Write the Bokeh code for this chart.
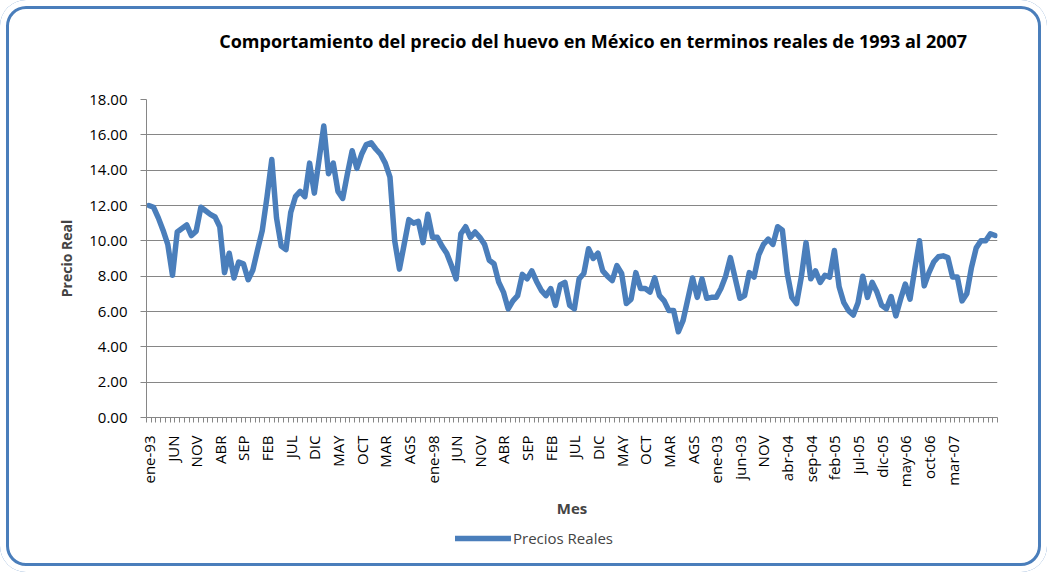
import math
from bokeh.plotting import figure
from bokeh.layouts import column
from bokeh.models import (Range1d, FixedTicker, PrintfTickFormatter, Legend, LegendItem, Label)
from bokeh.embed import file_html
from bokeh.resources import INLINE

# ---- data ----
title_text = "Comportamiento del precio del huevo en México en terminos  reales de 1993 al 2007"
series_name = "Precios Reales"
tick_labels = ["ene-93", "JUN", "NOV", "ABR", "SEP", "FEB", "JUL", "DIC", "MAY", "OCT",
               "MAR", "AGS", "ene-98", "JUN", "NOV", "ABR", "SEP", "FEB", "JUL", "DIC",
               "MAY", "OCT", "MAR", "AGS", "ene-03", "jun-03", "NOV", "abr-04", "sep-04",
               "feb-05", "jul-05", "dic-05", "may-06", "oct-06", "mar-07"]
precios = [
    12.0, 11.9, 11.3, 10.6, 9.8, 8.05, 10.5, 10.7, 10.9, 10.3,
    10.55, 11.9, 11.7, 11.5, 11.35, 10.8, 8.2, 9.3, 7.9, 8.8,
    8.7, 7.8, 8.35, 9.5, 10.6, 12.5, 14.6, 11.3, 9.7, 9.5,
    11.6, 12.5, 12.8, 12.5, 14.4, 12.7, 14.6, 16.5, 13.8, 14.4,
    12.8, 12.4, 13.8, 15.1, 14.1, 14.9, 15.45, 15.55, 15.2, 14.9,
    14.4, 13.6, 10.0, 8.4, 9.8, 11.2, 11.0, 11.1, 9.9, 11.5,
    10.2, 10.2, 9.7, 9.3, 8.6, 7.85, 10.4, 10.8, 10.2, 10.5,
    10.2, 9.8, 8.9, 8.7, 7.66, 7.1, 6.15, 6.6, 6.9, 8.1,
    7.85, 8.3, 7.7, 7.2, 6.9, 7.3, 6.35, 7.5, 7.65, 6.35,
    6.15, 7.85, 8.15, 9.55, 9.0, 9.3, 8.3, 8.0, 7.75, 8.6,
    8.15, 6.45, 6.7, 8.2, 7.3, 7.3, 7.1, 7.9, 6.9, 6.6,
    6.05, 6.05, 4.85, 5.5, 6.7, 7.9, 6.8, 7.85, 6.75, 6.8,
    6.8, 7.3, 8.0, 9.05, 7.9, 6.75, 6.9, 8.2, 7.95, 9.2,
    9.8, 10.1, 9.8, 10.8, 10.6, 8.2, 6.8, 6.45, 7.95, 9.9,
    7.85, 8.3, 7.65, 8.05, 7.95, 9.45, 7.4, 6.5, 6.05, 5.8,
    6.5, 8.0, 6.8, 7.65, 7.1, 6.35, 6.15, 6.85, 5.75, 6.7,
    7.55, 6.7, 8.4, 10.0, 7.45, 8.2, 8.8, 9.1, 9.15, 9.05,
    7.95, 7.95, 6.6, 7.0, 8.5, 9.6, 10.0, 10.0, 10.4, 10.3,
]
label_step = 5
y_ticks = [0, 2, 4, 6, 8, 10, 12, 14, 16, 18]

n = len(precios)
xs = [i + 0.5 for i in range(n)]

LINE = "#4A7EBB"
GRID = "#868686"
FONT = "Open Sans"
W = 1047
FRAME_L, FRAME_R = 146, 997


def blank(h, xr, yr):
    f = figure(width=W, height=h, output_backend="svg", toolbar_location=None,
               x_range=xr, y_range=yr, min_border=0)
    f.axis.visible = False
    f.grid.visible = False
    f.outline_line_color = None
    f.border_fill_color = None
    f.background_fill_color = None
    return f


# ---- title strip (its frame is aligned with the main chart's frame) ----
pt = blank(84, Range1d(FRAME_L, FRAME_R), Range1d(0, 84))
pt.add_layout(Label(x=595, y=44, text=title_text, text_align="center", text_baseline="middle",
                    text_font=FONT, text_font_size="18px", text_font_style="bold",
                    text_color="#000000"))

# ---- main chart ----
p = figure(width=W, height=438, output_backend="svg", toolbar_location=None,
           x_range=Range1d(0, n), y_range=Range1d(0, 18),
           min_border_left=FRAME_L, min_border_right=W - FRAME_R,
           min_border_top=15, min_border_bottom=105)
p.border_fill_color = None
p.background_fill_color = "#FFFFFF"
p.outline_line_color = None
p.xgrid.grid_line_color = None
p.ygrid.grid_line_color = GRID
p.ygrid.grid_line_width = 1

p.yaxis.ticker = FixedTicker(ticks=y_ticks)
p.yaxis.formatter = PrintfTickFormatter(format="%.2f")
p.yaxis.major_tick_out = 6
p.yaxis.major_tick_in = 0
p.yaxis.minor_tick_line_color = None
p.yaxis.axis_line_color = GRID
p.yaxis.major_tick_line_color = GRID
p.yaxis.major_label_text_font = FONT
p.yaxis.major_label_text_font_size = "15px"
p.yaxis.major_label_text_color = "#000000"
p.yaxis.major_label_standoff = 13
p.yaxis.axis_label = "Precio Real"
p.yaxis.axis_label_text_font = FONT
p.yaxis.axis_label_text_font_size = "14px"
p.yaxis.axis_label_text_font_style = "bold"
p.yaxis.axis_label_standoff = 10

major = [i * label_step + 0.5 for i in range(len(tick_labels))]
p.xaxis.ticker = FixedTicker(ticks=major, minor_ticks=list(range(n + 1)))
p.xaxis.major_label_overrides = {m: lab for m, lab in zip(major, tick_labels)}
p.xaxis.major_label_orientation = math.pi / 2
p.xaxis.major_tick_line_color = None
p.xaxis.major_tick_out = 0
p.xaxis.major_tick_in = 0
p.xaxis.minor_tick_out = 5
p.xaxis.minor_tick_in = 0
p.xaxis.minor_tick_line_color = GRID
p.xaxis.axis_line_color = GRID
p.xaxis.major_label_text_font = FONT
p.xaxis.major_label_text_font_size = "15px"
p.xaxis.major_label_text_color = "#000000"
p.xaxis.major_label_standoff = 13
p.xaxis.axis_label = "Mes"
p.xaxis.axis_label_text_font = FONT
p.xaxis.axis_label_text_font_size = "15px"
p.xaxis.axis_label_text_font_style = "bold"
p.xaxis.axis_label_standoff = 8

p.line(xs, precios, line_color=LINE, line_width=5.5, line_join="round", line_cap="round")

# ---- legend strip (series drawn outside its ranges; only the legend shows) ----
pl = blank(50, Range1d(0, n), Range1d(100, 101))
rl = pl.line(xs, precios, line_color=LINE, line_width=5.5, line_cap="round")
legend = Legend(items=[LegendItem(label=series_name, renderers=[rl])], location=(309, 24),
                orientation="horizontal", glyph_width=56, glyph_height=20, label_standoff=2,
                padding=0, margin=0, spacing=0, border_line_color=None,
                background_fill_alpha=0, label_text_font=FONT, label_text_font_size="15px")
pl.add_layout(legend)

page = column(pt, p, pl, spacing=0)
page.styles = {"border-radius": "26px",
               "box-shadow": "inset 0 0 0 6px #FFFFFF, inset 0 0 0 9px #4A7EBB"}

open("out.html", "w").write(file_html(page, INLINE))
